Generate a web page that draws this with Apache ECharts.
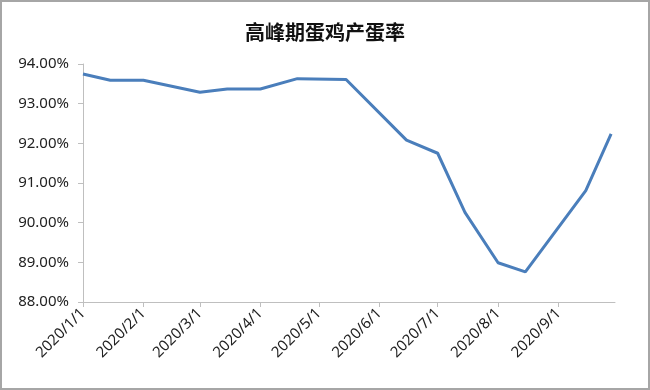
<!DOCTYPE html>
<html>
<head>
<meta charset="utf-8">
<script src="https://cdn.jsdelivr.net/npm/echarts@6/dist/echarts.min.js"></script>
<style>
html,body{margin:0;padding:0;background:#fff;}
#c{width:650px;height:390px;}
</style>
</head>
<body>
<div id="c"></div>
<script>
const title = '高峰期蛋鸡产蛋率';
const dates = ['2020-01-01','2020-01-15','2020-02-01','2020-03-01','2020-03-15','2020-04-01','2020-04-20','2020-05-15','2020-06-15','2020-07-01','2020-07-15','2020-08-01','2020-08-15','2020-09-15','2020-09-28'];
const rates = [93.75,93.59,93.59,93.29,93.37,93.37,93.63,93.61,92.08,91.75,90.26,88.99,88.76,90.81,92.24];
const yMin = 88, yMax = 94, yStep = 1;
const xMin = '2020-01-01', xMax = '2020-09-30';

const chart = echarts.init(document.getElementById('c'));
const DAY = 86400000;
chart.setOption({
  animation: false,
  title: {
    text: title, left: 'center', top: 17,
    textStyle: {fontFamily: 'Noto Sans CJK SC', fontSize: 20, fontWeight: 'bold', color: '#111'}
  },
  graphic: [{type: 'rect', shape: {x: 1, y: 1, width: 648, height: 388}, style: {fill: 'none', stroke: '#a6a6a6', lineWidth: 2}, z: 100}],
  grid: {left: 83, right: 35, top: 64, bottom: 88},
  xAxis: {
    type: 'time',
    min: xMin, max: xMax,
    minInterval: 28 * DAY, maxInterval: 31 * DAY,
    axisLine: {show: true, lineStyle: {color: '#bfbfbf', width: 1}},
    axisTick: {show: true, length: 5, lineStyle: {color: '#bfbfbf'}},
    splitLine: {show: false},
    axisLabel: {
      rotate: 45, fontFamily: 'Noto Sans', fontSize: 15, color: '#222', margin: 9,
      showMaxLabel: false,
      formatter: function (v) { const d = new Date(v); return d.getFullYear() + '/' + (d.getMonth() + 1) + '/' + d.getDate(); }
    }
  },
  yAxis: {
    type: 'value', min: yMin, max: yMax, interval: yStep,
    axisLine: {show: true, lineStyle: {color: '#bfbfbf', width: 1}},
    axisTick: {show: true, length: 5, lineStyle: {color: '#bfbfbf'}},
    splitLine: {show: false},
    axisLabel: {fontFamily: 'Noto Sans', fontSize: 15, color: '#222', margin: 14,
      formatter: function (v) { return v.toFixed(2) + '%'; }}
  },
  series: [{
    type: 'line', showSymbol: false, symbol: 'none',
    data: dates.map((d, i) => [d, rates[i]]),
    lineStyle: {color: '#4a7ebb', width: 3}
  }]
});
</script>
</body>
</html>
